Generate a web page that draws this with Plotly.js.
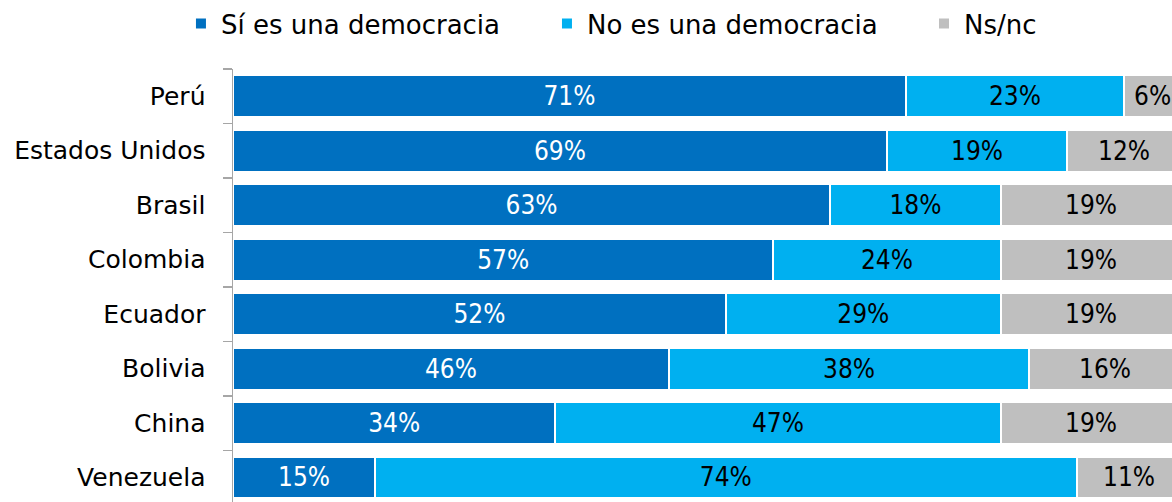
<!DOCTYPE html>
<html>
<head>
<meta charset="utf-8">
<script src="https://cdn.plot.ly/plotly-3.0.1.min.js"></script>
<style>html,body{margin:0;padding:0;background:#fff;overflow:hidden;}#chart{width:1172px;height:502px;}</style>
</head>
<body>
<div id="chart"></div>
<script>
const countries = ["Perú", "Estados Unidos", "Brasil", "Colombia", "Ecuador", "Bolivia", "China", "Venezuela"];
const siDemocracia = [71, 69, 63, 57, 52, 46, 34, 15];
const noDemocracia = [23, 19, 18, 24, 29, 38, 47, 74];
const nsnc = [6, 12, 19, 19, 19, 16, 19, 11];
const seriesNames = ["Sí es una democracia", "No es una democracia", "Ns/nc"];

const FONT = "DejaVu Sans, sans-serif";
const LBLFONT = "Liberation Sans Narrow, DejaVu Sans Condensed, DejaVu Sans, sans-serif";
function mk(name, vals, color, txtColor, withText, legendId) {
  return {
    type: "bar", orientation: "h", name: name, legend: legendId,
    y: countries, x: vals,
    text: withText ? vals.map(v => v + "%") : undefined,
    textposition: withText ? "inside" : "none", insidetextanchor: "middle",
    textfont: {family: LBLFONT, size: 26, color: txtColor},
    constraintext: "none",
    cliponaxis: false,
    marker: {color: color, line: {color: "#ffffff", width: 2}},
    hoverinfo: "skip"
  };
}
const data = [
  mk(seriesNames[0], siDemocracia, "#0070C0", "#ffffff", true, "legend"),
  mk(seriesNames[1], noDemocracia, "#00B0F0", "#000000", true, "legend2"),
  mk(seriesNames[2], nsnc, "#BFBFBF", "#000000", false, "legend3")
];
// Ns/nc labels placed at the centre of their segment (data coordinates)
const annotations = countries.map((c, i) => ({
  x: siDemocracia[i] + noDemocracia[i] + nsnc[i] / 2, y: c,
  xref: "x", yref: "y", text: nsnc[i] + "%", showarrow: false,
  font: {family: LBLFONT, size: 26, color: "#000000"}
}));
function leg(x) {
  return {orientation: "h", xref: "container", yref: "container", x: x, y: 1, xanchor: "left", yanchor: "top",
          font: {family: FONT, size: 26, color: "#000"}};
}
const layout = {
  width: 1172, height: 502,
  margin: {l: 233, r: 0, t: 69, b: 0},
  barmode: "stack", bargap: 0.23,
  paper_bgcolor: "#ffffff", plot_bgcolor: "#ffffff",
  font: {family: FONT, size: 25, color: "#000000"},
  showlegend: true,
  annotations: annotations,
  legend: leg(0.1544),
  legend2: leg(0.4667),
  legend3: leg(0.7884),
  xaxis: {range: [0, 99.07], showgrid: false, zeroline: false, showticklabels: false, showline: false, ticks: "", fixedrange: true},
  yaxis: {type: "category", autorange: false, range: [7.45, -0.5], showgrid: false, zeroline: false,
          showline: true, linecolor: "#A6A6A6", linewidth: 1.5,
          ticks: "outside", tickson: "boundaries", ticklen: 9, tickcolor: "#A6A6A6", tickwidth: 1.5,
          ticklabelstandoff: 21,
          tickfont: {family: FONT, size: 25, color: "#000"}}
};
Plotly.newPlot("chart", data, layout, {displayModeBar: false, staticPlot: true});
</script>
</body>
</html>
